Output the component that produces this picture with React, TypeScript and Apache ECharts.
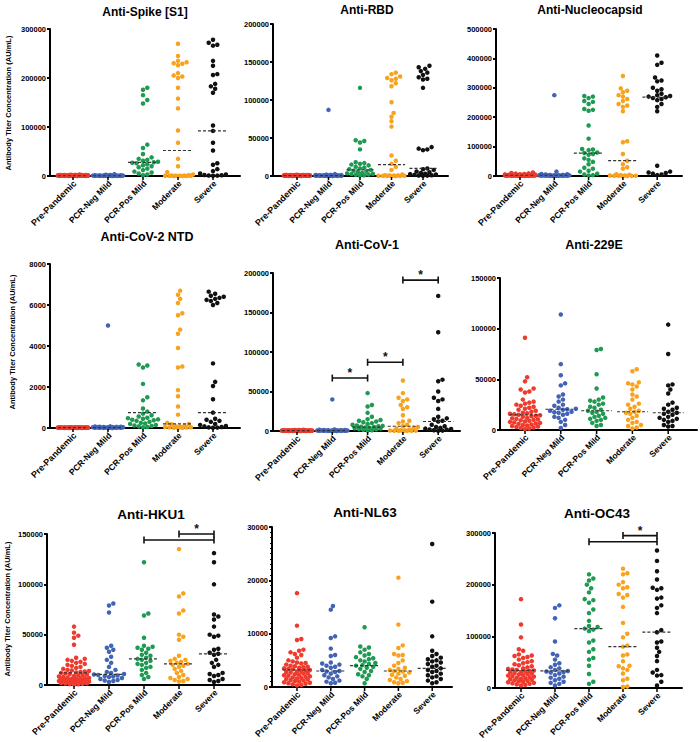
import React, { useEffect, useRef } from "react";
import * as echarts from "echarts";

const FONT = '"Liberation Sans", Arial, sans-serif';

const groups = ["Pre-Pandemic", "PCR-Neg Mild", "PCR-Pos Mild", "Moderate", "Severe"];
const groupColors = ["#ef3a2e", "#4363b5", "#1f9a52", "#f9a21d", "#111111"];

const titles = ["Anti-Spike [S1]", "Anti-RBD", "Anti-Nucleocapsid", "Anti-CoV-2 NTD", "Anti-CoV-1", "Anti-229E", "Anti-HKU1", "Anti-NL63", "Anti-OC43"];
const yMax = [300000, 200000, 500000, 8000, 200000, 150000, 150000, 30000, 300000];
const yInterval = [100000, 50000, 100000, 2000, 50000, 50000, 50000, 10000, 100000];
const yTitle = "Antibody Titer Concentration (AU/mL)";

// ---- Anti-Spike [S1]
const spikePre = [0, 300, 1200, 500, 800, 2000, 150, 950, 1700, 400, 600, 1100, 2400, 700, 250, 1500, 900, 350, 1300, 2200, 450, 1000, 100, 1800, 650, 1400, 550, 2600, 850, 200, 1600, 750, 1250, 50, 1900, 3000, 480, 1050, 620, 2100];
const spikeNeg = [0, 200, 900, 400, 1500, 3500, 600, 1100, 300, 700, 2000, 150, 800, 1300, 500, 250, 1000, 2500, 450, 1200, 350, 650, 1700, 100, 850];
const spikePos = [180000, 176000, 165000, 155000, 148000, 64000, 57000, 45000, 38000, 35000, 33000, 31000, 29000, 28000, 27000, 26000, 24000, 22000, 20000, 18000, 15000, 12000, 9000, 7000, 5000, 3000, 1500];
const spikeMod = [270000, 245000, 235000, 232000, 230000, 229000, 226000, 210000, 205000, 203000, 200000, 180000, 158000, 138000, 93000, 68000, 35000, 20000, 8000, 3000, 1500, 1000, 800, 600, 500, 400, 300, 200, 100, 50, 0, 0];
const spikeSev = [278000, 272000, 268000, 266000, 235000, 225000, 208000, 206000, 188000, 183000, 178000, 170000, 103000, 92000, 68000, 52000, 26000, 23000, 14000, 10000, 5000, 3000, 2000, 1500, 1000, 800, 500];
const spikeMed = [500, 500, 28000, 52000, 92000];

// ---- Anti-RBD
const rbdPre = [0, 200, 800, 350, 600, 1200, 100, 700, 1000, 300, 450, 900, 1500, 500, 150, 1100, 650, 250, 950, 1300, 400, 750, 50, 1250, 550, 850, 320, 1400, 480, 180, 1050, 720, 880, 60, 1150, 1600, 380, 680, 520, 1350];
const rbdNeg = [87000, 2500, 0, 300, 900, 500, 1200, 200, 700, 1500, 400, 100, 800, 1000, 600, 250, 1800, 350, 1100, 450, 150, 650, 1300, 50];
const rbdPos = [116000, 47000, 46000, 44000, 35000, 18000, 17000, 16000, 15000, 14000, 12000, 11000, 10000, 9000, 8000, 7000, 6000, 5000, 4000, 3500, 3000, 2500, 2000, 1500, 1000, 500];
const rbdMod = [136000, 134000, 131000, 129000, 128000, 126000, 122000, 118000, 97000, 83000, 78000, 72000, 65000, 27000, 20000, 16000, 12000, 8000, 2000, 1000, 800, 600, 500, 400, 300, 200, 100, 50, 0, 0];
const rbdSev = [145000, 143000, 141000, 138000, 136000, 133000, 130000, 128000, 127000, 116000, 38000, 36000, 35000, 34000, 10000, 9000, 8000, 6000, 5000, 4000, 3000, 2500, 2000, 1500, 1000, 700, 500, 300];
const rbdMed = [400, 400, 8000, 15000, 10000];

// ---- Anti-Nucleocapsid
const nucPre = [500, 1200, 3000, 800, 2000, 5000, 1500, 7000, 2500, 400, 3500, 1000, 9000, 600, 4000, 1800, 12000, 300, 2200, 6000, 1100, 2800, 700, 4500, 1400, 8000, 200, 3200, 900, 5500, 1600, 2600, 10000, 350, 1900, 3800];
const nucNeg = [275000, 15000, 5000, 3000, 2000, 1000, 4000, 500, 2500, 1500, 800, 3500, 600, 7000, 1200, 300, 2200, 900, 6000, 1800, 400, 2800, 1100, 200];
const nucPos = [272000, 270000, 265000, 255000, 252000, 245000, 228000, 225000, 222000, 172000, 127000, 92000, 90000, 88000, 80000, 78000, 75000, 72000, 60000, 55000, 48000, 40000, 28000, 25000, 18000, 15000, 8000, 5000, 3000, 2000];
const nucMod = [340000, 298000, 290000, 285000, 275000, 270000, 262000, 255000, 245000, 240000, 235000, 220000, 118000, 115000, 75000, 52000, 40000, 30000, 25000, 6000, 4000, 3000, 2000, 1500, 1000, 800, 500, 300, 200, 100];
const nucSev = [410000, 385000, 378000, 335000, 325000, 322000, 300000, 295000, 290000, 280000, 275000, 272000, 270000, 268000, 265000, 262000, 258000, 245000, 235000, 220000, 35000, 15000, 12000, 10000, 8000, 5000, 3000];
const nucMed = [2500, 2500, 78000, 52000, 268000];

// ---- Anti-CoV-2 NTD
const ntdPre = [0, 5, 20, 10, 15, 35, 3, 25, 30, 8, 12, 22, 40, 14, 4, 28, 18, 6, 24, 33, 9, 19, 1, 31, 13, 26, 11, 38, 16, 2, 29, 17, 21, 0, 27, 36, 7, 23, 15, 32];
const ntdNeg = [5000, 80, 40, 20, 10, 0, 30, 60, 15, 5, 50, 25, 70, 35, 12, 45, 8, 55, 22, 65, 3, 28, 18, 38];
const ntdPos = [3100, 3050, 2950, 2150, 1500, 1350, 950, 800, 700, 620, 560, 500, 480, 450, 420, 400, 380, 350, 300, 250, 220, 200, 150, 120, 100, 80, 50, 30];
const ntdMod = [6700, 6500, 6300, 6100, 5600, 5500, 4800, 4600, 3900, 3000, 2950, 1850, 1550, 1050, 650, 250, 200, 180, 100, 80, 60, 50, 40, 30, 20, 10, 5, 0];
const ntdSev = [6650, 6550, 6450, 6400, 6350, 6300, 6250, 6200, 6100, 6000, 3150, 2250, 2050, 1400, 750, 450, 400, 350, 300, 200, 150, 100, 80, 50, 30, 20, 10];
const ntdMed = [15, 20, 750, 200, 750];

// ---- Anti-CoV-1
const cov1Pre = [0, 150, 600, 250, 400, 1000, 80, 480, 850, 200, 300, 550, 1200, 350, 120, 750, 450, 180, 650, 1100, 220, 500, 40, 900, 330, 700, 270, 1300, 420, 100, 800, 380, 620, 20, 950, 1500, 240, 520, 310, 1050];
const cov1Neg = [40000, 2000, 1000, 500, 0, 300, 800, 200, 1200, 600, 100, 400, 1500, 700, 250, 900, 50, 350, 1100, 450, 150, 650, 1300, 550];
const cov1Pos = [48000, 33000, 31000, 23000, 18000, 15000, 14000, 13000, 12000, 11000, 10000, 9000, 8000, 7000, 6500, 6000, 5500, 5000, 4500, 4000, 3500, 3000, 2500, 2000, 1500, 1000, 500];
const cov1Mod = [64000, 48000, 42000, 40000, 38000, 33000, 30000, 28000, 20000, 13000, 12000, 10000, 8000, 6000, 5000, 4000, 3000, 2000, 1000, 800, 600, 500, 400, 300, 200, 100, 50];
const cov1Sev = [171000, 125000, 65000, 63000, 50000, 42000, 40000, 38000, 28000, 18000, 16000, 15000, 13000, 12000, 8000, 6000, 5000, 4000, 3000, 2500, 2000, 1500, 1000, 500, 300];
const cov1Med = [400, 500, 5000, 6000, 12000];

// ---- Anti-229E
const e229Pre = [91000, 52000, 48000, 41000, 40000, 38000, 37000, 30000, 28000, 27000, 26000, 25000, 24000, 23000, 22000, 21000, 20000, 19000, 18000, 17000, 16500, 16000, 15500, 15000, 14500, 14000, 13500, 13000, 12000, 11500, 11000, 10500, 10000, 9500, 9000, 8500, 8000, 7500, 7000, 6500, 6000, 5500, 5000, 4500, 4000, 3500, 3000, 2500, 2000, 1500, 1000];
const e229Neg = [114000, 65000, 54000, 46000, 44000, 35000, 33000, 30000, 28000, 25000, 24000, 22000, 21000, 20500, 20000, 19000, 18000, 17500, 17000, 16000, 15000, 13000, 12000, 10000, 8000, 5000, 2000];
const e229Pos = [80000, 79000, 55000, 41000, 32000, 30000, 29000, 28000, 26000, 25000, 23000, 22000, 20000, 19000, 18000, 17000, 16000, 14000, 13000, 12000, 11000, 10000, 9000, 7000, 5000, 4000];
const e229Mod = [60000, 58000, 47000, 46000, 45000, 43000, 40000, 35000, 33000, 30000, 26000, 25000, 23000, 21000, 19000, 18000, 17000, 16000, 14000, 12000, 10000, 8000, 7000, 5000, 4000, 2500, 1500];
const e229Sev = [104000, 75000, 45000, 44000, 40000, 36000, 27000, 25000, 22000, 21000, 20000, 18000, 17000, 16000, 15000, 13000, 12000, 11000, 10000, 9000, 8000, 5000, 4000, 3500];
const e229Med = [15000, 20500, 19000, 18000, 17000];

// ---- Anti-HKU1
const hkuPre = [58000, 52000, 49000, 47000, 40000, 27000, 26000, 25000, 24000, 23000, 22000, 21000, 20000, 19000, 18000, 17000, 16000, 15000, 14500, 14000, 13500, 13000, 12500, 12000, 11500, 11000, 10500, 10000, 9500, 9000, 8500, 8000, 7500, 7000, 6800, 6500, 6200, 6000, 5800, 5500, 5200, 5000, 4800, 4500, 4200, 4000, 3800, 3500, 3200, 3000, 2800, 2500, 2200, 2000, 1800, 1500, 1200, 1000, 800, 500];
const hkuNeg = [81000, 79000, 72000, 39000, 37000, 35000, 33000, 28000, 25000, 22000, 18000, 15000, 13000, 12000, 11000, 10500, 10000, 9500, 9000, 8500, 8000, 7000, 6000, 5000, 4500, 4000, 3000];
const hkuPos = [122000, 71000, 69000, 47000, 39000, 38000, 37000, 36000, 35000, 32000, 30000, 29000, 27000, 26000, 25000, 24000, 22000, 21000, 20000, 18000, 17000, 15000, 12000, 10000, 8000, 6000];
const hkuMod = [135000, 91000, 88000, 74000, 71000, 50000, 48000, 45000, 29000, 26000, 25000, 24000, 23000, 22000, 21000, 20000, 19000, 18000, 16000, 14000, 12000, 10000, 8000, 7000, 6000, 5000, 4000, 3500];
const hkuSev = [131000, 122000, 100000, 70000, 68000, 65000, 58000, 50000, 49000, 48000, 36000, 35000, 32000, 31000, 30000, 25000, 22000, 20000, 18000, 12000, 11000, 10000, 9000, 6000, 5000, 4000, 3000];
const hkuMed = [12000, 10500, 26000, 21000, 31000];

// ---- Anti-NL63
const nlPre = [17600, 11500, 9000, 8800, 7000, 6800, 6500, 6200, 6000, 5500, 5000, 4800, 4600, 4500, 4400, 4200, 4000, 3900, 3800, 3700, 3600, 3500, 3400, 3300, 3200, 3100, 3000, 2900, 2800, 2700, 2600, 2500, 2400, 2300, 2200, 2100, 2000, 1900, 1800, 1700, 1600, 1500, 1400, 1300, 1200, 1100, 1000, 900, 800, 700, 600, 500, 400, 300];
const nlNeg = [15200, 14500, 9500, 9200, 7200, 6000, 5800, 4600, 4400, 4200, 4000, 3800, 3600, 3200, 3000, 2900, 2800, 2500, 2200, 2000, 1800, 1500, 1200, 1000, 800, 700];
const nlPos = [11200, 7600, 7400, 7000, 6500, 6200, 5900, 5600, 5400, 5200, 5000, 4800, 4500, 4300, 4100, 4000, 3800, 3600, 3400, 3000, 2800, 2400, 2200, 2000, 1500, 700];
const nlMod = [20500, 11700, 7800, 7300, 6200, 6000, 5900, 5000, 4500, 4000, 3600, 3400, 3200, 3000, 2900, 2700, 2500, 2300, 2100, 1800, 1500, 1300, 1100, 900, 800, 700];
const nlSev = [26800, 16000, 9500, 6800, 6200, 5800, 5500, 5200, 5000, 4800, 4600, 4300, 4000, 3800, 3500, 3200, 3000, 2800, 2500, 2200, 2000, 1800, 1500, 1200, 900, 700];
const nlMed = [3200, 3000, 4000, 3000, 3500];

// ---- Anti-OC43
const ocPre = [172000, 123000, 98000, 75000, 72000, 65000, 63000, 62000, 60000, 58000, 55000, 52000, 50000, 48000, 46000, 44000, 42000, 40000, 38000, 37000, 36000, 35000, 34000, 33000, 32000, 31000, 30000, 29000, 28000, 27000, 26000, 25000, 24000, 23000, 22000, 21000, 20000, 19000, 18000, 17000, 16000, 15000, 14000, 13000, 12000, 11000, 10000, 9000, 8000, 7000, 6000, 5000];
const ocNeg = [160000, 155000, 135000, 90000, 66000, 63000, 55000, 48000, 45000, 40000, 38000, 35000, 33000, 32000, 31000, 30000, 28000, 25000, 22000, 20000, 18000, 15000, 12000, 10000, 8000, 5000];
const ocPos = [220000, 212000, 208000, 200000, 193000, 185000, 172000, 170000, 165000, 152000, 145000, 130000, 120000, 118000, 115000, 113000, 110000, 92000, 88000, 75000, 70000, 58000, 55000, 43000, 27000, 12000, 8000];
const ocMod = [231000, 222000, 220000, 205000, 200000, 195000, 193000, 182000, 180000, 175000, 157000, 126000, 105000, 98000, 82000, 80000, 65000, 63000, 52000, 43000, 42000, 38000, 35000, 28000, 18000, 15000, 3000, 2000];
const ocSev = [266000, 246000, 226000, 210000, 194000, 193000, 190000, 175000, 173000, 160000, 155000, 145000, 112000, 108000, 90000, 88000, 78000, 70000, 62000, 52000, 35000, 30000, 25000, 24000, 12000, 5000];
const ocMed = [34000, 33000, 115000, 80000, 108000];

// significance brackets: [fromGroup, toGroup, value, hasStar]
const cov1Brackets = [[1, 2, 67000, 1], [2, 3, 87000, 1], [3, 4, 191000, 1]];
const hkuBrackets = [[2, 4, 144000, 0], [3, 4, 150000, 1]];
const ocBrackets = [[2, 4, 283000, 0], [3, 4, 295000, 1]];

const panelData = [
  [spikePre, spikeNeg, spikePos, spikeMod, spikeSev],
  [rbdPre, rbdNeg, rbdPos, rbdMod, rbdSev],
  [nucPre, nucNeg, nucPos, nucMod, nucSev],
  [ntdPre, ntdNeg, ntdPos, ntdMod, ntdSev],
  [cov1Pre, cov1Neg, cov1Pos, cov1Mod, cov1Sev],
  [e229Pre, e229Neg, e229Pos, e229Mod, e229Sev],
  [hkuPre, hkuNeg, hkuPos, hkuMod, hkuSev],
  [nlPre, nlNeg, nlPos, nlMod, nlSev],
  [ocPre, ocNeg, ocPos, ocMod, ocSev],
];
const panelMedians = [spikeMed, rbdMed, nucMed, ntdMed, cov1Med, e229Med, hkuMed, nlMed, ocMed];
const panelBrackets = [[], [], [], [], cov1Brackets, [], hkuBrackets, [], ocBrackets];

// ---- layout (pixels)
const layout = [
  { left: 50, top: 29, width: 190, height: 147, cat0: 73, sp: 35 },
  { left: 273, top: 24, width: 175, height: 152, cat0: 297, sp: 31.5 },
  { left: 496, top: 29, width: 186, height: 147, cat0: 520, sp: 34.3 },
  { left: 50, top: 264, width: 190, height: 164, cat0: 73, sp: 35 },
  { left: 273, top: 273, width: 187, height: 158, cat0: 297, sp: 35.3 },
  { left: 500, top: 278, width: 197, height: 152, cat0: 525, sp: 35.8 },
  { left: 47, top: 534, width: 193, height: 151, cat0: 74, sp: 35 },
  { left: 272, top: 527, width: 180, height: 160, cat0: 297, sp: 33.8 },
  { left: 495, top: 533, width: 187, height: 155, cat0: 521, sp: 34 },
];
const titlePos = [[145, 12], [367, 10], [590, 10], [147, 237], [367, 245], [594, 245], [151, 514], [365, 512], [597, 513]];
const titleSize = [12, 12, 12, 12.5, 12.5, 12.5, 13.5, 13.5, 13.5];
const yTitlePos = [[8, 103], [12, 342], [7, 609]];

// beeswarm layout: horizontal offsets (in category units) so dots don't overlap
function swarm(values: number[], max: number, h: number, sp: number) {
  const d = 4.3;
  const cap = 0.44 * sp;
  const step = d / 2;
  const cands: number[] = [0];
  for (let k = 1; k * step <= cap; k++) cands.push(k * step, -k * step);
  const order = values.map((_, i) => i).sort((a, b) => values[a] - values[b]);
  const placed: { x: number; y: number }[] = [];
  const off: number[] = new Array(values.length).fill(0);
  for (const i of order) {
    const y = (values[i] / max) * h;
    let best = 0;
    let bestScore = -1;
    for (const c of cands) {
      let minD = Infinity;
      for (const p of placed) {
        if (Math.abs(p.y - y) >= d) continue;
        const dd = Math.hypot(p.x - c, p.y - y);
        if (dd < minD) minD = dd;
      }
      if (minD >= d) {
        best = c;
        bestScore = Infinity;
        break;
      }
      if (minD > bestScore + 0.01) {
        bestScore = minD;
        best = c;
      }
    }
    placed.push({ x: best, y });
    off[i] = best / sp;
  }
  return off;
}

export default function App() {
  const ref = useRef<HTMLDivElement>(null);
  useEffect(() => {
    document.body.style.margin = "0";
    const chart = echarts.init(ref.current!, undefined, { renderer: "svg" });

    const grid: any[] = [];
    const xAxis: any[] = [];
    const yAxis: any[] = [];
    const series: any[] = [];

    layout.forEach((L, p) => {
      grid.push({ left: L.left, top: L.top, width: L.width, height: L.height });
      const min = -(L.cat0 - L.left) / L.sp;
      xAxis.push({
        type: "value", gridIndex: p, min, max: min + L.width / L.sp,
        axisLine: { show: true, onZero: false, lineStyle: { color: "#000", width: 2 } },
        axisTick: { show: false }, axisLabel: { show: false }, splitLine: { show: false },
      });
      yAxis.push({
        type: "value", gridIndex: p, min: 0, max: yMax[p], interval: yInterval[p],
        axisLine: { show: true, onZero: false, lineStyle: { color: "#000", width: 2 } },
        axisTick: { show: true, length: 3, lineStyle: { color: "#000", width: 2 } },
        minorTick: { show: p === 7, splitNumber: 10, length: 2, lineStyle: { color: "#000", width: 1 } },
        axisLabel: { fontSize: 7.5, fontWeight: "bold", color: "#000", margin: 4, fontFamily: FONT, formatter: (v: number) => String(v) },
        splitLine: { show: false },
      });

      panelData[p].forEach((vals, g) => {
        const off = swarm(vals, yMax[p], L.height, L.sp);
        series.push({
          type: "scatter", xAxisIndex: p, yAxisIndex: p, silent: true, z: 2,
          symbolSize: 4.5, itemStyle: { color: groupColors[g], opacity: 1 },
          data: vals.map((v, i) => [g + off[i], v]),
        });
      });

      series.push({
        type: "custom", xAxisIndex: p, yAxisIndex: p, silent: true, z: 4, clip: false,
        data: panelMedians[p].map((m, g) => [g, m]),
        renderItem: (params: any, api: any) => {
          const g = api.value(0);
          const m = api.value(1);
          const a = api.coord([g - 0.43, m]);
          const b = api.coord([g + 0.43, m]);
          return {
            type: "line",
            shape: { x1: a[0], y1: a[1], x2: b[0], y2: b[1] },
            style: { stroke: "#333", lineWidth: 1.2, lineDash: [3, 2] },
          };
        },
      });

      series.push({
        type: "custom", xAxisIndex: p, yAxisIndex: p, silent: true, z: 4, clip: false,
        data: groups.map((_, g) => [g, 0]),
        renderItem: (params: any, api: any) => {
          const g = params.dataIndex;
          const pt = api.coord([g, 0]);
          return {
            type: "group",
            children: [
              { type: "line", shape: { x1: pt[0], y1: pt[1] + 1, x2: pt[0], y2: pt[1] + 4 }, style: { stroke: "#000", lineWidth: 1.5 } },
              {
                type: "text", x: pt[0] + 2, y: pt[1] + 6, rotation: Math.PI / 4,
                style: { text: groups[g], align: "right", verticalAlign: "middle", fontSize: g === 0 ? 9 : 8.5, fontWeight: "bold", fontFamily: FONT, fill: "#000" },
              },
            ],
          };
        },
      });

      if (panelBrackets[p].length) {
        series.push({
          type: "custom", xAxisIndex: p, yAxisIndex: p, silent: true, z: 5, clip: false,
          data: panelBrackets[p],
          renderItem: (params: any, api: any) => {
            const a = api.coord([api.value(0), api.value(2)]);
            const b = api.coord([api.value(1), api.value(2)]);
            const children: any[] = [
              { type: "line", shape: { x1: a[0], y1: a[1], x2: b[0], y2: b[1] }, style: { stroke: "#111", lineWidth: 1.6 } },
              { type: "line", shape: { x1: a[0], y1: a[1] - 3.5, x2: a[0], y2: a[1] + 3.5 }, style: { stroke: "#111", lineWidth: 1.6 } },
              { type: "line", shape: { x1: b[0], y1: b[1] - 3.5, x2: b[0], y2: b[1] + 3.5 }, style: { stroke: "#111", lineWidth: 1.6 } },
            ];
            if (api.value(3)) {
              children.push({
                type: "text", x: (a[0] + b[0]) / 2, y: a[1] - 5,
                style: { text: "*", align: "center", verticalAlign: "middle", fontSize: 12, fontWeight: "bold", fontFamily: FONT, fill: "#111" },
              });
            }
            return { type: "group", children };
          },
        });
      }
    });

    const graphic: any[] = titles.map((t, p) => ({
      type: "text", x: titlePos[p][0], y: titlePos[p][1], silent: true,
      style: { text: t, align: "center", verticalAlign: "middle", fontSize: titleSize[p], fontWeight: "bold", fontFamily: FONT, fill: "#000" },
    }));
    yTitlePos.forEach(([x, y]) => {
      graphic.push({
        type: "text", x, y, rotation: Math.PI / 2, silent: true,
        style: { text: yTitle, align: "center", verticalAlign: "middle", fontSize: 7.5, fontWeight: "bold", fontFamily: FONT, fill: "#000" },
      });
    });

    chart.setOption({ animation: false, backgroundColor: "#fff", grid, xAxis, yAxis, series, graphic });
    return () => chart.dispose();
  }, []);
  return <div ref={ref} style={{ width: 700, height: 742 }} />;
}
